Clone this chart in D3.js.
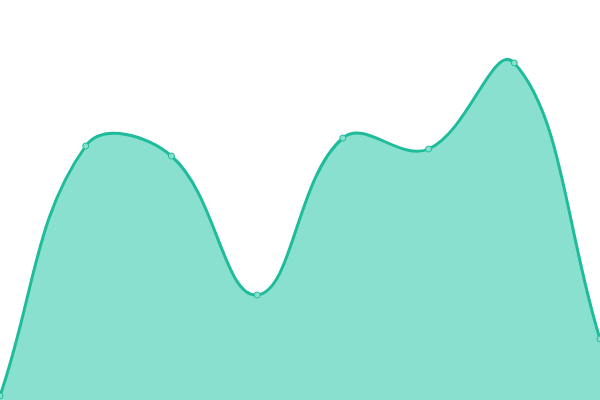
<!DOCTYPE html>
<html><head><meta charset="utf-8">
<script src="https://cdn.jsdelivr.net/npm/d3@7"></script>
<style>html,body{margin:0;padding:0;background:#fff;}svg{display:block;}</style>
</head><body>
<svg id="c" width="600" height="400"></svg>
<script>
const categories = ["A","B","C","D","E","F","G","H"];
const values = [4, 254, 244, 105, 262, 251, 337, 61];

const W = 600, H = 400;
const TENSION = 0.4;

// Distance-weighted spline curve factory
function SplineCurve(context) { this._context = context; }
SplineCurve.prototype = {
  areaStart() { this._line = 0; },
  areaEnd() { this._line = NaN; },
  lineStart() { this._pts = []; },
  point(x, y) { this._pts.push([+x, +y]); },
  lineEnd() {
    const p = this._pts, c = this._context, n = p.length;
    if (n) {
      if (this._line) c.lineTo(p[0][0], p[0][1]); else c.moveTo(p[0][0], p[0][1]);
      const cps = p.map((cur, i) => {
        const prev = p[i - 1] || cur, next = p[i + 1] || cur;
        const d01 = Math.hypot(cur[0] - prev[0], cur[1] - prev[1]);
        const d12 = Math.hypot(next[0] - cur[0], next[1] - cur[1]);
        let s01 = d01 / (d01 + d12), s12 = d12 / (d01 + d12);
        if (isNaN(s01)) s01 = 0; if (isNaN(s12)) s12 = 0;
        const fa = TENSION * s01, fb = TENSION * s12;
        const dx = next[0] - prev[0], dy = next[1] - prev[1];
        const clampX = v => Math.max(0, Math.min(W, v));
        const clampY = v => Math.max(0, Math.min(H, v));
        return {
          prev: [clampX(cur[0] - fa * dx), clampY(cur[1] - fa * dy)],
          next: [clampX(cur[0] + fb * dx), clampY(cur[1] + fb * dy)]
        };
      });
      for (let i = 1; i < n; i++) {
        c.bezierCurveTo(cps[i - 1].next[0], cps[i - 1].next[1], cps[i].prev[0], cps[i].prev[1], p[i][0], p[i][1]);
      }
    }
    if (this._line || (this._line !== 0 && n === 1)) c.closePath();
    this._line = 1 - this._line;
  }
};
const spline = ctx => new SplineCurve(ctx);

const svg = d3.select("#c");
const x = d3.scalePoint().domain(categories).range([0, W]);
const y = d3.scaleLinear().domain([0, 400]).range([H, 0]);
const data = categories.map((c, i) => ({c, v: values[i]}));

svg.append("path").datum(data)
  .attr("fill", "#8ae0cf")
  .attr("d", d3.area().x(d => x(d.c)).y0(H).y1(d => y(d.v)).curve(spline));
svg.append("path").datum(data)
  .attr("fill", "none").attr("stroke", "#1fbc9b").attr("stroke-width", 3)
  .attr("d", d3.line().x(d => x(d.c)).y(d => y(d.v)).curve(spline));
svg.selectAll("circle").data(data).enter().append("circle")
  .attr("cx", d => x(d.c)).attr("cy", d => y(d.v)).attr("r", 3)
  .attr("fill", "#8ae0cf").attr("stroke", "#1fbc9b").attr("stroke-width", 1);
</script>
</body></html>
